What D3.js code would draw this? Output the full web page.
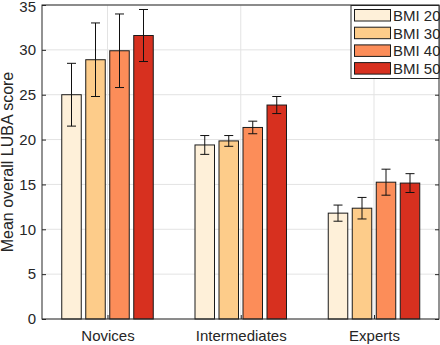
<!DOCTYPE html>
<html>
<head>
<meta charset="utf-8">
<script src="https://cdn.jsdelivr.net/npm/d3@7"></script>
<style>
  body { margin: 0; background: #fff; }
  svg { display: block; font-family: "Liberation Sans", Arial, sans-serif; }
</style>
</head>
<body>
<svg id="chart"></svg>
<script>
// groups on the x axis
var categories = ["Novices", "Intermediates", "Experts"];
var seriesNames = ["BMI 20", "BMI 30", "BMI 40", "BMI 50"];
var seriesColors = ["#fef0d9", "#fdcc8a", "#fc8d59", "#d7301f"];

// mean score per group, one array per BMI level
var bmi20 = [25.0, 19.4, 11.8];
var bmi30 = [28.9, 19.85, 12.35];
var bmi40 = [29.9, 21.35, 15.25];
var bmi50 = [31.6, 23.85, 15.15];

// error bar half-lengths
var err20 = [3.5, 1.05, 0.9];
var err30 = [4.1, 0.6, 1.2];
var err40 = [4.1, 0.7, 1.45];
var err50 = [2.9, 0.95, 1.05];

var yTicks = [0, 5, 10, 15, 20, 25, 30, 35];

drawChart();

function drawChart() {
    var means = [bmi20, bmi30, bmi40, bmi50];
    var errs = [err20, err30, err40, err50];

    var data = [];
    categories.forEach(function (c, ci) {
        seriesNames.forEach(function (s, si) {
            data.push({ cat: c, series: s, value: means[si][ci], err: errs[si][ci], color: seriesColors[si] });
        });
    });

    var svgWidth = 440, svgHeight = 345;
    var pL = 42, pR = 439, pT = 5, pB = 319;
    var axisColor = "#262626", gridColor = "#e3e3e3";

    var svg = d3.select("#chart")
        .attr("width", svgWidth)
        .attr("height", svgHeight);

    var x = d3.scalePoint()
        .domain(categories)
        .range([107.5, 374]);

    var xInner = d3.scaleBand()
        .domain(seriesNames)
        .range([-45.75, 45.75])
        .paddingInner(0.1875);

    var y = d3.scaleLinear()
        .domain([0, 35])
        .range([pB, pT]);

    // grid
    svg.append("g").selectAll("line")
        .data(yTicks)
        .enter().append("line")
        .attr("x1", pL).attr("x2", pR)
        .attr("y1", function (d) { return y(d); })
        .attr("y2", function (d) { return y(d); })
        .attr("stroke", gridColor);

    svg.append("g").selectAll("line")
        .data(categories)
        .enter().append("line")
        .attr("x1", function (d) { return x(d); })
        .attr("x2", function (d) { return x(d); })
        .attr("y1", pT).attr("y2", pB)
        .attr("stroke", gridColor);

    // bars
    svg.append("g").selectAll("rect")
        .data(data)
        .enter().append("rect")
        .attr("x", function (d) { return x(d.cat) + xInner(d.series); })
        .attr("y", function (d) { return y(d.value); })
        .attr("width", xInner.bandwidth())
        .attr("height", function (d) { return y(0) - y(d.value); })
        .attr("fill", function (d) { return d.color; })
        .attr("stroke", "#1a1a1a")
        .attr("stroke-width", 1);

    // error bars
    var eb = svg.append("g")
        .attr("stroke", "#111")
        .attr("stroke-width", 1)
        .selectAll("g")
        .data(data)
        .enter().append("g")
        .attr("transform", function (d) {
            return "translate(" + (x(d.cat) + xInner(d.series) + xInner.bandwidth() / 2) + ",0)";
        });

    eb.append("line")
        .attr("x1", 0).attr("x2", 0)
        .attr("y1", function (d) { return y(d.value + d.err); })
        .attr("y2", function (d) { return y(d.value - d.err); });

    eb.append("line")
        .attr("x1", -4.5).attr("x2", 4.5)
        .attr("y1", function (d) { return y(d.value + d.err); })
        .attr("y2", function (d) { return y(d.value + d.err); });

    eb.append("line")
        .attr("x1", -4.5).attr("x2", 4.5)
        .attr("y1", function (d) { return y(d.value - d.err); })
        .attr("y2", function (d) { return y(d.value - d.err); });

    // axes
    svg.append("g")
        .attr("transform", "translate(" + pL + ",0)")
        .call(d3.axisLeft(y).tickValues(yTicks).tickSize(-4).tickPadding(6))
        .call(function (g) {
            g.select(".domain").remove();
            g.selectAll("line").attr("stroke", axisColor);
            g.selectAll("text").attr("fill", axisColor).style("font-size", "15px")
                .style("font-family", "'Liberation Sans', Arial, sans-serif");
            // top label sits a little lower so it is not clipped
            g.selectAll("text").filter(function (d) { return d === 35; }).attr("dy", "0.45em");
        });

    svg.append("g")
        .attr("transform", "translate(" + pR + ",0)")
        .call(d3.axisRight(y).tickValues(yTicks).tickSize(-4).tickFormat(""))
        .call(function (g) {
            g.select(".domain").remove();
            g.selectAll("line").attr("stroke", axisColor);
        });

    svg.append("g")
        .attr("transform", "translate(0," + pB + ")")
        .call(d3.axisBottom(x).tickSize(-4).tickPadding(11))
        .call(function (g) {
            g.select(".domain").remove();
            g.selectAll("line").attr("stroke", axisColor);
            g.selectAll("text").attr("fill", axisColor).style("font-size", "15px")
                .style("font-family", "'Liberation Sans', Arial, sans-serif");
        });

    // box
    svg.append("rect")
        .attr("x", pL).attr("y", pT)
        .attr("width", pR - pL).attr("height", pB - pT)
        .attr("fill", "none")
        .attr("stroke", axisColor)
        .attr("stroke-width", 1);

    // y label
    svg.append("text")
        .attr("transform", "translate(13," + ((pT + pB) / 2) + ") rotate(-90)")
        .attr("text-anchor", "middle")
        .attr("fill", axisColor)
        .style("font-size", "16px")
        .text("Mean overall LUBA score");

    // legend
    var legend = svg.append("g").attr("transform", "translate(351,5.5)");
    legend.append("rect")
        .attr("width", 88).attr("height", 73)
        .attr("fill", "#fff")
        .attr("stroke", axisColor);

    var item = legend.selectAll("g")
        .data(seriesNames)
        .enter().append("g")
        .attr("transform", function (d, i) { return "translate(0," + (4 + i * 17.7) + ")"; });

    item.append("rect")
        .attr("x", 3.5).attr("y", 0)
        .attr("width", 36).attr("height", 11.5)
        .attr("fill", function (d, i) { return seriesColors[i]; })
        .attr("stroke", "#1a1a1a");

    item.append("text")
        .attr("x", 42).attr("y", 11.5)
        .attr("fill", axisColor)
        .style("font-size", "15px")
        .text(function (d) { return d; });
}
</script>
</body>
</html>
